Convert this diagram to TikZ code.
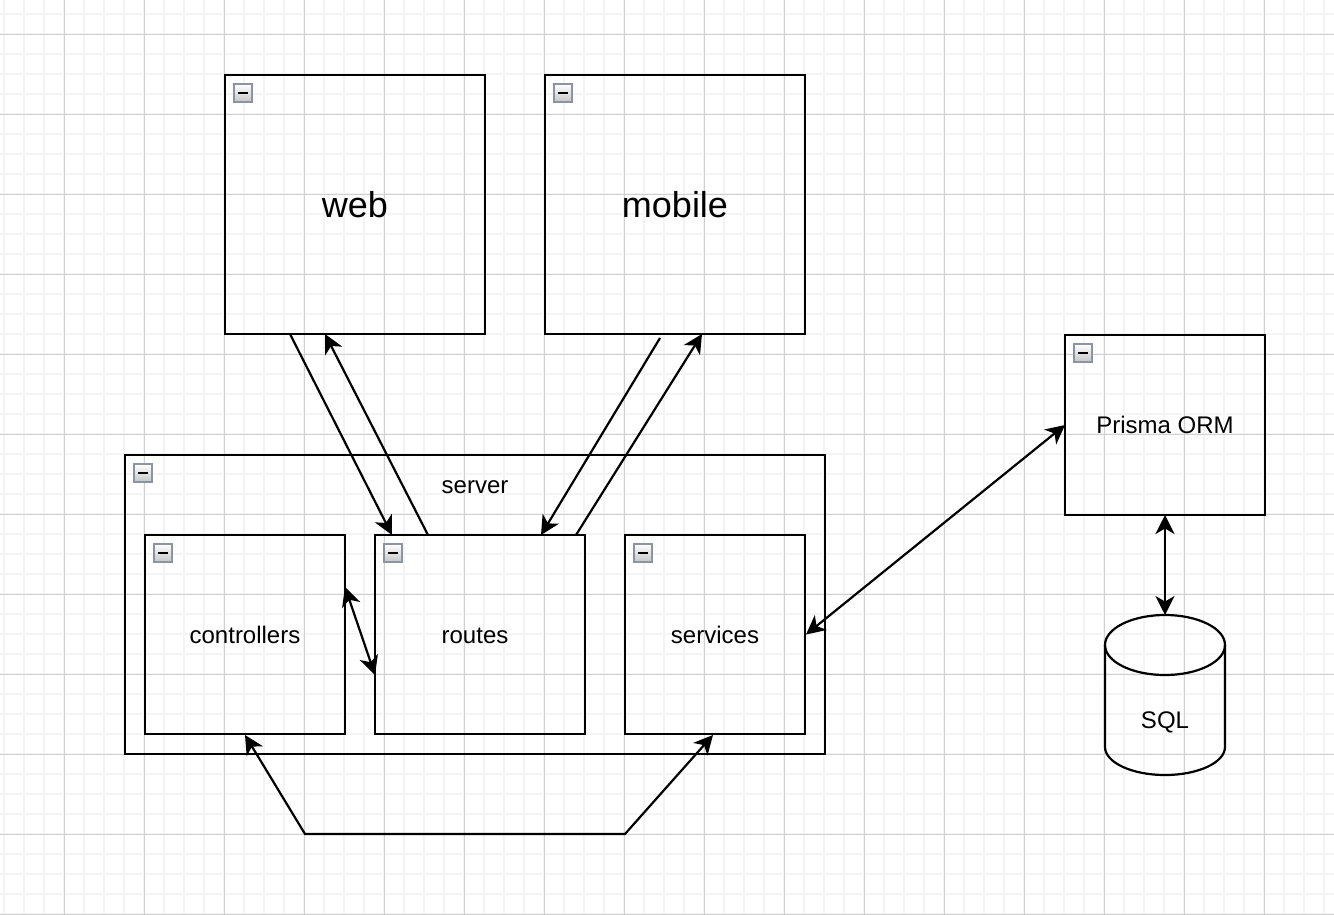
\documentclass[tikz,border=0pt]{standalone}
\usepackage{fontspec}
\setmainfont{Liberation Sans}
\usetikzlibrary{arrows.meta, positioning, calc}

\definecolor{gridminor}{HTML}{F4F4F4}
\definecolor{gridmajor}{HTML}{D0D0D0}
\definecolor{iconedge}{HTML}{8C93A3}

\newcommand{\labelfont}{\fontsize{24}{29}\selectfont}
\newcommand{\titlefont}{\fontsize{36}{43}\selectfont}
% small collapse icon in the top left corner of a box
\newcommand{\collapseicon}[1]{%
  \draw[icon] ([shift={(9pt,-9pt)}]#1.north west) rectangle ++(18pt,-18pt);
  \draw[line width=2.5pt] ([shift={(13pt,-18pt)}]#1.north west) -- ++(10pt,0pt);
}

\begin{document}
\begin{tikzpicture}[x=1pt, y=-1pt,
    box/.style={draw, line width=2.2pt, inner sep=0pt, outer sep=0pt, font=\labelfont},
    icon/.style={draw=iconedge, line width=2pt, top color=white, bottom color=gray!45},
    link/.style={line width=2.2pt, -{Stealth[length=19pt, width=19pt, inset=5.5pt]}},
    link2/.style={line width=2.2pt, {Stealth[length=19pt, width=19pt, inset=5.5pt]}-{Stealth[length=19pt, width=19pt, inset=5.5pt]}}]
	\useasboundingbox (0,0) rectangle (1334,914);
	\fill[white] (0,0) rectangle (1334,914);
	% grid
	\foreach \x in {4,24,...,1334} \draw[gridminor, line width=2pt] (\x,0) -- (\x,914);
	\foreach \y in {14,34,...,914} \draw[gridminor, line width=2pt] (0,\y) -- (1334,\y);
	\foreach \x in {64,144,...,1334} \draw[gridmajor, line width=1pt] (\x,0) -- (\x,914);
	\foreach \y in {34,114,...,914} \draw[gridmajor, line width=1pt] (0,\y) -- (1334,\y);

	\node[box, minimum width=260pt, minimum height=259pt, font=\titlefont] (web) at (355,204.5) {web};
	\node[box, minimum width=260pt, minimum height=259pt, font=\titlefont] (mobile) at (675,204.5) {mobile};
	\node[box, minimum width=200pt, minimum height=180pt] (prisma) at (1165,425) {Prisma ORM};
	\node[box, minimum width=700pt, minimum height=299pt] (server) at (475,604.5) {};
	\node[font=\labelfont, anchor=base] (servername) at (475,493) {server};
	\node[box, minimum width=200pt, minimum height=199pt] (controllers) at (245,634.5) {controllers};
	\node[box, minimum width=210pt, minimum height=199pt] (routes) at (480,634.5) {};
	\node[font=\labelfont, anchor=base] (routesname) at (475,643) {routes};
	\node[box, minimum width=180pt, minimum height=199pt] (services) at (715,634.5) {services};
	\node[box, draw=none, minimum width=120pt, minimum height=160pt] (sql) at (1165,695) {};
	\node[font=\labelfont, anchor=base] (sqlname) at (1165,728) {SQL};

	\collapseicon{web}
	\collapseicon{mobile}
	\collapseicon{prisma}
	\collapseicon{server}
	\collapseicon{controllers}
	\collapseicon{routes}
	\collapseicon{services}

	% database cylinder
	\draw[line width=2.2pt] ($(sql.north)+(0,30)$) ellipse [x radius=60pt, y radius=30pt];
	\draw[line width=2.2pt] ($(sql.north west)+(0,30)$) -- ($(sql.south west)+(0,-28)$)
		arc[start angle=180, end angle=360, x radius=60pt, y radius=28pt] -- ($(sql.north east)+(0,30)$);

	\draw[link] ([xshift=65pt]web.south west) -- ([xshift=17pt]routes.north west);
	\draw[link] ([xshift=53pt]routes.north west) -- ([xshift=100pt]web.south west);
	\draw[link] ([shift={(115pt,-4pt)}]mobile.south west) -- ([xshift=166pt]routes.north west);
	\draw[link] ([xshift=201pt]routes.north west) -- ([xshift=157pt]mobile.south west);
	\draw[link2] ([yshift=-52pt]controllers.north east) -- ([yshift=-140pt]routes.north west);
	\draw[link2] ([xshift=1pt]services.east) -- (prisma.west);
	\draw[link2] (prisma.south) -- (sql.north);
	\draw[link2] ([yshift=-1pt]controllers.south) -- ++(60,99) -- ++(320,0) -- ([shift={(-2pt,-1pt)}]services.south);
\end{tikzpicture}
\end{document}
